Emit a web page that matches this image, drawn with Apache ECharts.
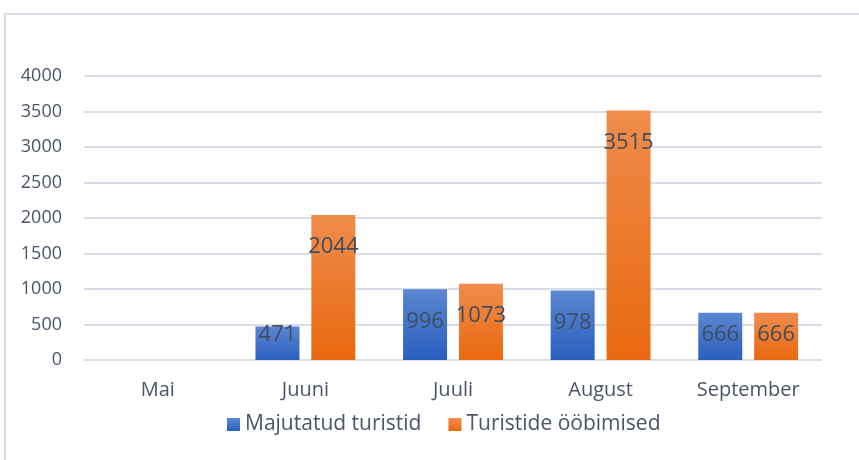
<!DOCTYPE html>
<html><head><meta charset="utf-8">
<script src="https://cdn.jsdelivr.net/npm/echarts@6/dist/echarts.min.js"></script>
<style>html,body{margin:0;padding:0;background:#fff}#c{width:859px;height:460px}</style>
</head><body><div id="c"></div>
<script>
const categories = ['Mai', 'Juuni', 'Juuli', 'August', 'September'];
const majutatud = [null, 471, 996, 978, 666];
const oobimised = [null, 2044, 1073, 3515, 666];
const seriesNames = ['Majutatud turistid', 'Turistide ööbimised'];
const yTicks = [0, 500, 1000, 1500, 2000, 2500, 3000, 3500, 4000];

const txt = '#4a5568';
const font = 'Open Sans';
const pxPerUnit = 284 / 4000;
function grad(top, bot) {
  return new echarts.graphic.LinearGradient(0, 0, 0, 1, [{offset: 0, color: top}, {offset: 1, color: bot}]);
}
function mk(vals) {
  return vals.map(v => {
    if (v == null) return v;
    const h = v * pxPerUnit;
    const off = Math.min(32, h - 25);
    return {value: v, label: {position: ['50%', off], align: 'center', verticalAlign: 'middle'}};
  });
}
const chart = echarts.init(document.getElementById('c'));
chart.setOption({
  animation: false,
  graphic: [{type: 'polyline', shape: {points: [[5, 460], [5, 14], [859, 14]]}, style: {stroke: '#d8dde8', lineWidth: 2, fill: null}}],
  grid: {left: 84, right: 37, top: 76, bottom: 100},
  legend: {
    bottom: 20, left: 222, itemWidth: 13, itemHeight: 13, itemGap: 27,
    icon: 'rect', textStyle: {color: txt, fontFamily: font, fontSize: 21},
    data: seriesNames
  },
  xAxis: {
    type: 'category', data: categories,
    axisLine: {show: false}, axisTick: {show: false},
    axisLabel: {color: txt, fontFamily: font, fontSize: 20, margin: 20}
  },
  yAxis: {
    type: 'value', min: 0, max: 4000, interval: 500,
    axisLine: {show: false}, axisTick: {show: false},
    axisLabel: {color: txt, fontFamily: font, fontSize: 18, margin: 22,
      formatter: v => yTicks.includes(v) ? String(v) : ''},
    splitLine: {lineStyle: {color: '#d9dde8', width: 2}}
  },
  series: [
    {name: seriesNames[0], type: 'bar', data: mk(majutatud), barWidth: 44, barGap: '27%',
     itemStyle: {color: grad('#5b87d1', '#2a5fbe')},
     label: {show: true, color: '#3f4d60', fontFamily: font, fontSize: 22}},
    {name: seriesNames[1], type: 'bar', data: mk(oobimised), barWidth: 44,
     itemStyle: {color: grad('#f08c4c', '#e8690f')},
     label: {show: true, color: '#3f4d60', fontFamily: font, fontSize: 22}}
  ]
});
</script></body></html>
